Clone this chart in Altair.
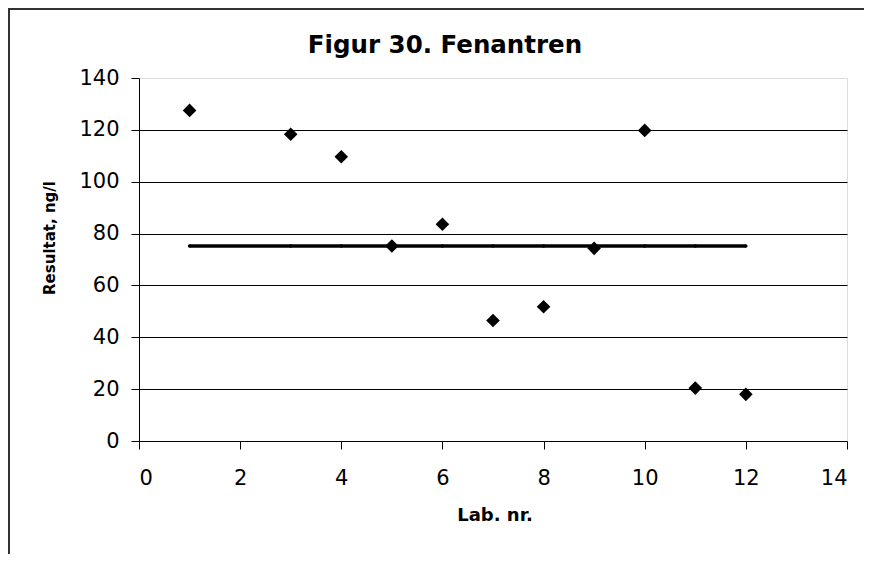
import altair as alt
import pandas as pd

# Data
lab_nr = [1, 3, 4, 5, 6, 7, 8, 9, 10, 11, 12]
resultat = [127.5, 118.3, 109.6, 75.2, 83.6, 46.5, 51.8, 74.3, 119.8, 20.4, 18.0]
median_val = [75.2] * len(lab_nr)

x_ticks = [0, 2, 4, 6, 8, 10, 12, 14]
y_ticks = [0, 20, 40, 60, 80, 100, 120, 140]

title_text = "Figur 30. Fenantren"
x_title = "Lab. nr."
y_title = "Resultat, ng/l"

FONT = "DejaVu Sans"
W, H = 708, 363

df = pd.DataFrame({"lab": lab_nr, "res": resultat, "med": median_val})
one = pd.DataFrame({"k": [0]})

xs = alt.Scale(domain=[0, 14], nice=False, zero=False)
ys = alt.Scale(domain=[0, 140], nice=False)

x_axis = alt.Axis(values=x_ticks, title=None, grid=False, domainColor="black",
                  domainWidth=1, tickColor="black", tickSize=8, labelFontSize=21,
                  labelFont=FONT, labelColor="black", labelPadding=18, format="d")
y_axis = alt.Axis(values=y_ticks, title=None, domainColor="black", domainWidth=1,
                  tickColor="black", tickSize=8, labelFontSize=21, labelFont=FONT,
                  labelColor="black", labelPadding=12, format="d",
                  gridColor="black", gridWidth=1,
                  gridOpacity={"condition": {"test": "datum.value >= 140 || datum.value <= 0", "value": 0}, "value": 1})

base = alt.Chart(df)

points = base.mark_point(shape="diamond", filled=True, size=185, color="black", opacity=1).encode(
    x=alt.X("lab:Q", scale=xs, axis=x_axis),
    y=alt.Y("res:Q", scale=ys, axis=y_axis),
)

med_line = base.mark_line(color="black", strokeWidth=3.5).encode(
    x=alt.X("lab:Q", scale=xs),
    y=alt.Y("med:Q", scale=ys),
)
med_dots = base.mark_point(shape="circle", filled=True, size=12, color="black", opacity=1).encode(
    x=alt.X("lab:Q", scale=xs),
    y=alt.Y("med:Q", scale=ys),
)

title = alt.Chart(one).mark_text(text=title_text, font=FONT, fontSize=24.5, fontWeight="bold",
                                 align="center", baseline="alphabetic", color="black").encode(
    x=alt.value(306), y=alt.value(-25.5))
xt = alt.Chart(one).mark_text(text=x_title, font=FONT, fontSize=18, fontWeight="bold",
                              align="center", baseline="middle", color="black").encode(
    x=alt.value(356), y=alt.value(438))
yt = alt.Chart(one).mark_text(text=y_title, font=FONT, fontSize=15, fontWeight="bold",
                              align="center", baseline="middle", angle=270, color="black").encode(
    x=alt.value(-89), y=alt.value(160))

frame_left = alt.Chart(one).mark_rule(color="#333333", strokeWidth=2).encode(
    x=alt.value(-130), y=alt.value(-69), y2=alt.value(476))
frame_top = alt.Chart(one).mark_rule(color="#333333", strokeWidth=2).encode(
    x=alt.value(-131), x2=alt.value(725), y=alt.value(-69))

chart = alt.layer(med_line, med_dots, points, title, xt, yt, frame_left, frame_top).properties(
    width=W, height=H,
    autosize=alt.AutoSizeParams(type="none"),
    padding={"left": 131, "top": 70, "right": 17, "bottom": 113},
).configure_view(stroke="#999999", strokeWidth=2).configure(background="white")

chart.save("out.html", embed_options={"renderer": "svg", "actions": False})
